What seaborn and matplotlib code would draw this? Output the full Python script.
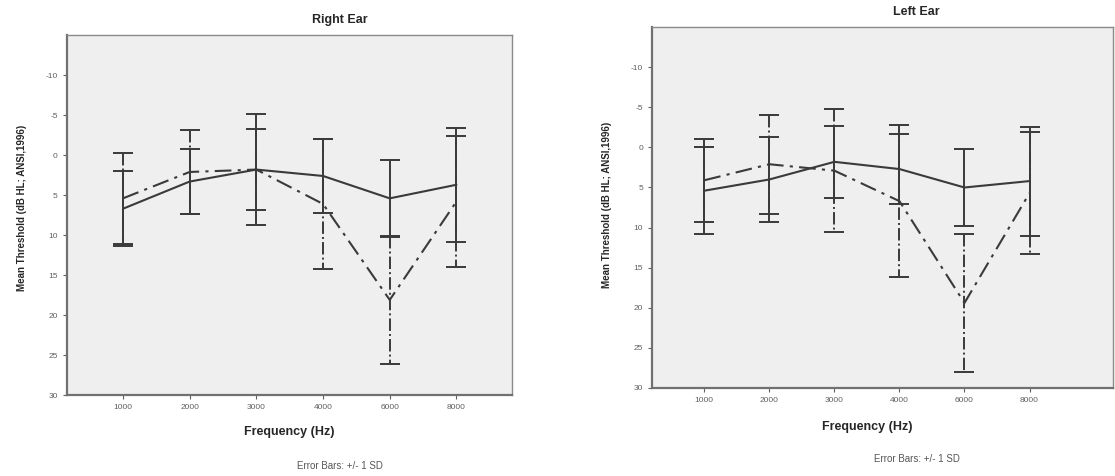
import numpy as np
import pandas as pd
import seaborn as sns
import matplotlib.pyplot as plt

# 频率类别
freqs = ["1000", "2000", "3000", "4000", "6000", "8000"]
groups = ["Group A", "Group B"]

# 右耳：均值与标准差
right_mean_a = [6.7, 3.3, 1.8, 2.6, 5.4, 3.7]
right_sd_a = [4.7, 4.1, 6.9, 4.6, 4.8, 7.1]
right_mean_b = [5.4, 2.1, 1.8, 6.1, 18.1, 5.8]
right_sd_b = [5.7, 5.2, 5.1, 8.1, 8.0, 8.2]

# 左耳
left_mean_a = [5.4, 4.0, 1.8, 2.7, 5.0, 4.2]
left_sd_a = [5.4, 5.3, 4.5, 4.4, 4.8, 6.8]
left_mean_b = [4.1, 2.1, 2.9, 6.7, 19.4, 5.7]
left_sd_b = [5.2, 6.2, 7.7, 9.5, 8.6, 7.6]

sns.set_theme(style="white")
plt.rcParams['font.family'] = ['Liberation Sans', 'DejaVu Sans']
plt.rcParams['axes.unicode_minus'] = False  # 用普通连字符

line_col = '#3a3a3a'
fig = plt.figure(figsize=(11.15, 4.76), dpi=100)
ax_r = fig.add_axes([0.060, 0.170, 0.399, 0.756])
ax_l = fig.add_axes([0.585, 0.185, 0.413, 0.758])


def build(mean_a, sd_a, mean_b, sd_b):
    return pd.DataFrame({
        "freq": freqs * 2,
        "group": [groups[0]] * len(freqs) + [groups[1]] * len(freqs),
        "mean": mean_a + mean_b,
        "sd": sd_a + sd_b,
    })


def draw(ax, df, xlim):
    ax.set_facecolor('#efefef')
    sns.lineplot(data=df, x="freq", y="mean", style="group", ax=ax,
                 dashes={groups[0]: "", groups[1]: (8, 3, 1.5, 3)},
                 color=line_col, linewidth=1.5, legend=False, sort=False)
    pos = np.arange(len(freqs))
    for g, ls in zip(groups, ['-', '-.']):
        sub = df[df["group"] == g]
        _, caps, bars = ax.errorbar(pos, sub["mean"], yerr=sub["sd"], fmt='none',
                                    ecolor=line_col, elinewidth=1.4, capsize=7, capthick=1.4)
        bars[0].set_linestyle(ls)
    ax.set_ylim(30, -15)
    ax.set_xlim(*xlim)
    ax.set_yticks(range(-10, 31, 5))
    ax.set_xlabel("")
    ax.set_ylabel("")
    ax.tick_params(axis='both', labelsize=6, colors='#606060', length=3,
                   width=0.8, direction='out', left=True, bottom=True)
    for side in ['left', 'bottom']:
        ax.spines[side].set_color('#707070')
        ax.spines[side].set_linewidth(1.6)
    for side in ['top', 'right']:
        ax.spines[side].set_color('#8a8a8a')
        ax.spines[side].set_linewidth(1.0)


draw(ax_r, build(right_mean_a, right_sd_a, right_mean_b, right_sd_b), (-0.84, 5.83))
draw(ax_l, build(left_mean_a, left_sd_a, left_mean_b, left_sd_b), (-0.8, 6.28))

# 标题与标签
ylab = "Mean Threshold (dB HL; ANSI,1996)"
fig.text(340 / 1115, 1 - 20 / 476, "Right Ear", ha='center', va='center', fontsize=9, fontweight='bold')
fig.text(916 / 1115, 1 - 12 / 476, "Left Ear", ha='center', va='center', fontsize=9, fontweight='bold')
fig.text(289 / 1115, 1 - 432 / 476, "Frequency (Hz)", ha='center', va='center', fontsize=9, fontweight='bold')
fig.text(867 / 1115, 1 - 427 / 476, "Frequency (Hz)", ha='center', va='center', fontsize=9, fontweight='bold')
fig.text(22 / 1115, 1 - 208 / 476, ylab, ha='center', va='center', rotation=90, fontsize=7, fontweight='bold')
fig.text(607 / 1115, 1 - 205 / 476, ylab, ha='center', va='center', rotation=90, fontsize=7, fontweight='bold')
fig.text(340 / 1115, 1 - 466 / 476, "Error Bars: +/- 1 SD", ha='center', va='center', fontsize=7, color='#555555')
fig.text(917 / 1115, 1 - 459 / 476, "Error Bars: +/- 1 SD", ha='center', va='center', fontsize=7, color='#555555')

plt.savefig("out.png", dpi=100)
